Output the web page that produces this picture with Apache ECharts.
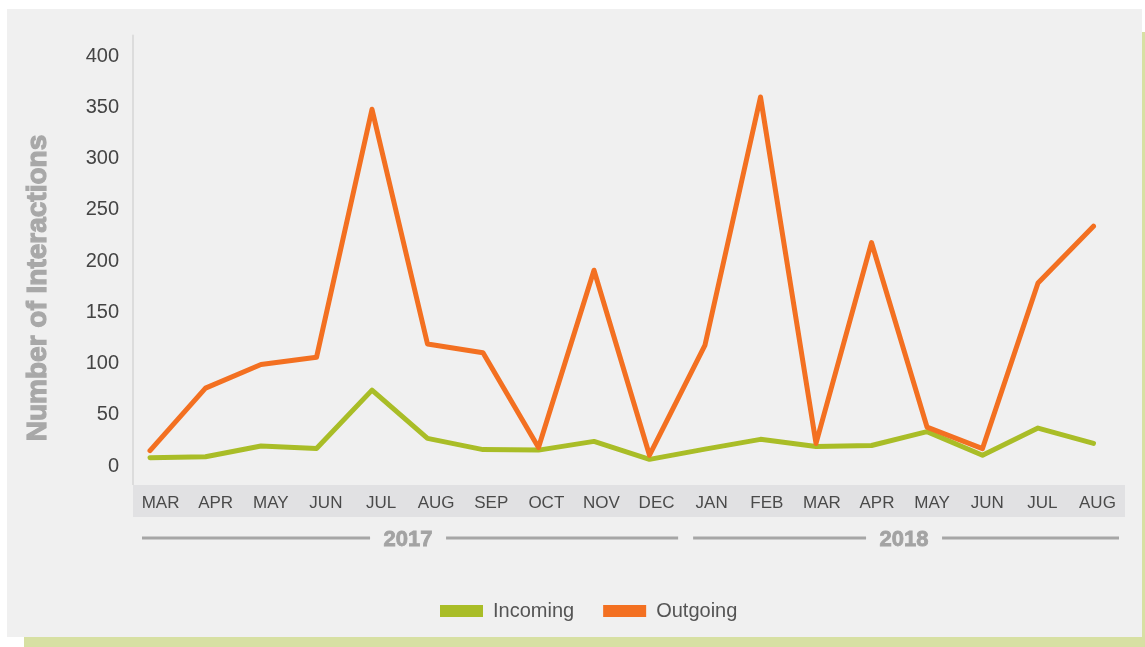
<!DOCTYPE html>
<html>
<head>
<meta charset="utf-8">
<script src="https://cdn.jsdelivr.net/npm/echarts@6/dist/echarts.min.js"></script>
<style>
  html, body { margin: 0; padding: 0; background: #ffffff; }
  #shadow { position: absolute; left: 24px; top: 32px; width: 1121px; height: 615px; background: #d7e0a3; }
  #panel { position: absolute; left: 7px; top: 9px; width: 1135px; height: 628px; background: #f0f0f0; }
  #chart { position: absolute; left: 0; top: 0; width: 1145px; height: 647px; }
</style>
</head>
<body>
<div id="shadow"></div>
<div id="panel"></div>
<div id="chart"></div>
<script>
const months = ['MAR','APR','MAY','JUN','JUL','AUG','SEP','OCT','NOV','DEC','JAN','FEB','MAR','APR','MAY','JUN','JUL','AUG'];
const incoming = [8, 9, 19.5, 17, 74, 27, 16, 15.5, 24, 6.5, 16.5, 26, 19, 20, 33.5, 10.5, 37, 22];
const outgoing = [15, 76, 99, 106, 348, 119, 110.5, 18, 191, 10.5, 118, 360, 22, 218, 38, 17, 178.5, 234];
const yTicks = [0, 50, 100, 150, 200, 250, 300, 350, 400];
const years = [
  { label: '2017', from: 0, to: 9 },
  { label: '2018', from: 10, to: 17 }
];
const seriesNames = ['Incoming', 'Outgoing'];
const colors = ['#a9bd27', '#f37021'];

const FONT = "'Liberation Sans', Arial, Helvetica, sans-serif";
const chart = echarts.init(document.getElementById('chart'), null, { renderer: 'canvas' });

const option = {
  backgroundColor: 'transparent',
  animation: false,
  textStyle: { fontFamily: FONT },
  grid: [
    { left: 150, right: 51.5, top: 35.5, bottom: 181 },
    { left: 133, right: 20, top: 485, height: 32, show: true, backgroundColor: '#e1e1e3', borderWidth: 0 }
  ],
  legend: {
    data: seriesNames,
    left: 440,
    top: 601,
    padding: 0,
    icon: 'rect',
    itemWidth: 43,
    itemHeight: 12,
    itemGap: 29,
    textStyle: { fontSize: 20, color: '#555555', fontFamily: FONT, padding: [0, 0, 0, 5] }
  },
  xAxis: [
    {
      type: 'category', gridIndex: 0, data: months, boundaryGap: false,
      axisLine: { show: false }, axisTick: { show: false }, axisLabel: { show: false }, splitLine: { show: false }
    },
    {
      type: 'category', gridIndex: 1, data: months, boundaryGap: true, position: 'top',
      axisLine: { show: false }, axisTick: { show: false }, splitLine: { show: false },
      axisLabel: { inside: true, margin: 10, fontSize: 17, color: '#4a4a4a', fontFamily: FONT, interval: 0 }
    }
  ],
  yAxis: [
    {
      type: 'value', gridIndex: 0, min: 0, max: 420, interval: 50, offset: 17,
      axisLine: { show: true, lineStyle: { color: '#dcdcdc', width: 2 } },
      axisTick: { show: false },
      splitLine: { show: false },
      axisLabel: {
        margin: 14, fontSize: 20, color: '#444444', fontFamily: FONT,
        formatter: function (v) { return yTicks.indexOf(v) >= 0 ? String(v) : ''; },
        showMaxLabel: false
      }
    },
    {
      type: 'value', gridIndex: 1, show: false
    }
  ],
  series: [
    {
      name: seriesNames[0], type: 'line', xAxisIndex: 0, yAxisIndex: 0, data: incoming,
      showSymbol: false, symbol: 'none', color: colors[0],
      lineStyle: { color: colors[0], width: 5, cap: 'round', join: 'round' },
      itemStyle: { color: colors[0] }
    },
    {
      name: seriesNames[1], type: 'line', xAxisIndex: 0, yAxisIndex: 0, data: outgoing,
      showSymbol: false, symbol: 'none', color: colors[1],
      lineStyle: { color: colors[1], width: 5, cap: 'round', join: 'round' },
      itemStyle: { color: colors[1] }
    }
  ]
};
chart.setOption(option);

// Decorations computed from the axes
const c0 = chart.convertToPixel({ xAxisIndex: 1 }, 0);
const c1 = chart.convertToPixel({ xAxisIndex: 1 }, 1);
const bw = c1 - c0;
const y0 = chart.convertToPixel({ yAxisIndex: 0 }, 0);
const axisX = 133;
const graphics = [];
// y-axis line extension down to the category band
graphics.push({ type: 'line', shape: { x1: axisX, y1: y0, x2: axisX, y2: 485 }, style: { stroke: '#dcdcdc', lineWidth: 2 }, silent: true });
// y-axis title
graphics.push({
  type: 'text', x: 38, y: 288, rotation: Math.PI / 2,
  style: { text: 'Number of Interactions', font: "bold 28px " + FONT, fill: '#a8a8a8', stroke: '#a8a8a8', lineWidth: 1.2, textAlign: 'center', textVerticalAlign: 'middle' },
  silent: true
});
const yearY = 538;
years.forEach(function (yr) {
  const start = chart.convertToPixel({ xAxisIndex: 1 }, yr.from) - bw / 2 + 9;
  const end = chart.convertToPixel({ xAxisIndex: 1 }, yr.to) + bw / 2 - 6;
  const mid = (start + end) / 2 - 2;
  const half = 25, gap = 13;
  graphics.push({ type: 'line', shape: { x1: start, y1: yearY, x2: mid - half - gap, y2: yearY }, style: { stroke: '#a6a6a6', lineWidth: 3 }, silent: true });
  graphics.push({ type: 'line', shape: { x1: mid + half + gap, y1: yearY, x2: end, y2: yearY }, style: { stroke: '#a6a6a6', lineWidth: 3 }, silent: true });
  graphics.push({
    type: 'text', x: mid, y: yearY + 2,
    style: { text: yr.label, font: "bold 22px " + FONT, fill: '#a3a3a3', stroke: '#a3a3a3', lineWidth: 0.8, textAlign: 'center', textVerticalAlign: 'middle' },
    silent: true
  });
});
chart.setOption({ graphic: graphics });
</script>
</body>
</html>
